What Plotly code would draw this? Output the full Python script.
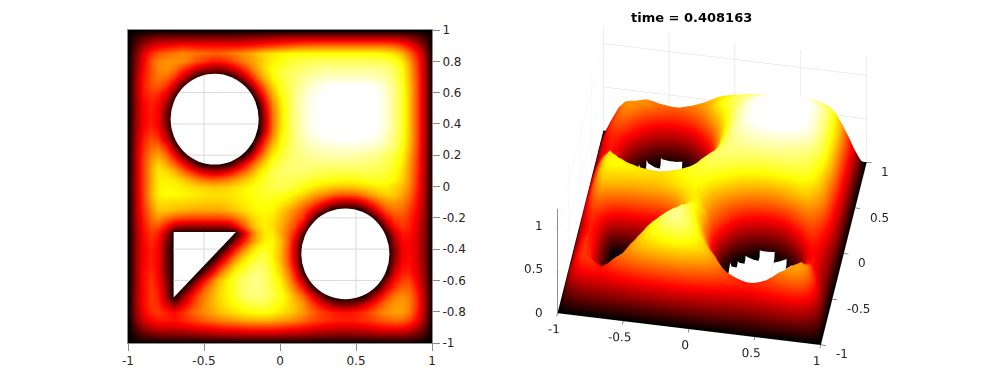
import numpy as np
import plotly.graph_objects as go

grid_x = [round(-1 + 0.05 * i, 2) for i in range(41)]
grid_y = [round(1 - 0.05 * i, 2) for i in range(41)]
left_x_ticks = [-1, -0.5, 0, 0.5, 1]
left_x_text = ["-1", "-0.5", "0", "0.5", "1"]
left_y_ticks = [1, 0.8, 0.6, 0.4, 0.2, 0, -0.2, -0.4, -0.6, -0.8, -1]
left_y_text = ["1", "0.8", "0.6", "0.4", "0.2", "0", "-0.2", "-0.4", "-0.6", "-0.8", "-1"]
surface_z_ticks = [0, 0.5, 1]
surface_z_text = ["0", "0.5", "1"]
title_text = "time = 0.408163"

# Field values (percent). Rows run from y = 1 down to y = -1.
field_rows = [
 [0]*41,
 [0, 8,14,18,20,21,21,21,21,21,21, 21,21,21,21,22,23,24,25,26,27, 28,28,29,29,29,29,29,29,29,29, 29,29,29,29,28,26,22,17,10,0],
 [0, 14,24,32,36,38,40,42,42,41,40, 40,40,40,40,41,42,44,46,48,50, 52,54,55,56,56,57,57,57,57,57, 57,57,57,56,54,48,40,30,18,0],
 [0, 18,32,44,50,54,56,58,57,55,54, 53,53,55,57,60,63,67,71,73,75, 76,77,77,77,77,77,77,77,77,77, 77,77,76,75,72,65,54,40,24,0],
 [0, 21,36,50,58,60,60,60,56,50,46, 42,42,45,50,56,61,66,71,75,78, 81,83,84,85,86,86,86,86,86,86, 86,86,85,84,81,74,62,45,27,0],
 [0, 22,38,50,58,60,56,47,38,30,24, 20,20,24,32,42,53,63,72,78,82, 85,87,88,90,91,92,92,92,92,92, 92,92,92,90,86,78,65,47,28,0],
 [0, 24,40,50,56,54,46,33,20,5,0, 0,0,0,8,24,40,55,67,76,82, 86,89,92,94,96,97,97,97,97,97, 97,96,95,93,88,79,66,48,28,0],
 [0, 25,41,50,52,46,32,14,0,0,0, 0,0,0,0,0,20,40,58,70,80, 85,90,94,97,100,102,103,104,104,104, 104,103,100,96,90,80,67,49,28,0],
 [0, 25,40,46,44,35,18,0,0,0,0, 0,0,0,0,0,0,26,48,65,77, 84,91,96,100,102,104,104,105,105,105, 105,104,102,98,91,81,68,49,28,0],
 [0, 24,38,43,40,28,4,0,0,0,0, 0,0,0,0,0,0,10,40,60,74, 84,92,97,101,103,104,105,105,105,105, 105,104,102,98,91,81,68,49,28,0],
 [0, 24,37,42,37,20,0,0,0,0,0, 0,0,0,0,0,0,0,33,56,72, 83,92,97,101,103,104,105,105,105,105, 105,104,102,98,91,81,68,49,28,0],
 [0, 24,36,41,36,17,0,0,0,0,0, 0,0,0,0,0,0,0,28,54,71, 83,91,97,101,103,104,105,105,105,105, 105,104,102,98,91,81,68,49,28,0],
 [0, 24,37,42,36,17,0,0,0,0,0, 0,0,0,0,0,0,0,28,54,71, 83,91,97,101,103,104,105,105,105,105, 105,104,102,98,91,81,68,49,28,0],
 [0, 25,39,45,40,24,0,0,0,0,0, 0,0,0,0,0,0,0,33,56,73, 83,91,96,100,102,103,104,104,104,104, 104,103,101,97,90,81,68,49,28,0],
 [0, 26,42,50,47,32,7,0,0,0,0, 0,0,0,0,0,0,14,44,61,75, 84,90,95,98,100,102,102,103,103,103, 102,101,99,95,89,80,67,49,28,0],
 [0, 27,44,54,55,44,22,0,0,0,0, 0,0,0,0,0,0,30,52,68,78, 85,90,93,95,97,98,98,99,99,99, 98,97,95,92,87,79,66,48,28,0],
 [0, 28,46,58,63,54,38,20,0,0,0, 0,0,0,0,2,24,44,62,74,81, 86,89,91,93,94,94,95,95,95,94, 93,92,90,87,83,76,64,47,27,0],
 [0, 28,47,62,70,63,52,40,26,10,0, 0,0,2,14,30,46,60,71,80,85, 88,89,90,90,90,90,90,90,90,90, 90,89,87,85,81,74,62,46,27,0],
 [0, 28,47,63,74,71,65,56,46,38,30, 26,27,32,40,50,60,70,78,84,87, 88,88,88,87,86,85,85,85,85,85, 85,85,85,83,79,72,61,45,27,0],
 [0, 28,47,64,74,75,73,69,64,58,54, 52,53,56,60,66,71,76,81,84,86, 86,85,84,82,81,80,79,78,78,79, 80,81,81,80,77,70,60,44,26,0],
 [0, 28,47,64,75,76,76,75,73,71,70, 69,69,70,72,74,77,80,82,84,85, 84,82,78,75,72,70,68,67,67,68, 70,72,74,74,71,66,58,43,26,0],
 [0, 28,47,65,75,77,77,76,75,74,73, 72,72,73,74,76,78,80,81,81,80, 78,75,71,66,62,58,54,52,52,54, 58,63,67,70,69,63,55,41,25,0],
 [0, 27,46,62,72,72,71,71,70,70,69, 69,69,70,72,74,76,78,79,78,76, 72,67,60,54,46,38,30,26,25,28, 36,45,54,60,61,58,51,39,24,0],
 [0, 27,44,58,68,68,66,65,64,63,63, 63,63,65,68,71,74,76,77,76,70, 64,58,50,40,26,12,2,0,0,0, 10,24,40,50,55,54,47,37,23,0],
 [0, 26,42,55,60,55,50,48,47,47,47, 47,47,49,53,60,68,73,75,73,67, 60,52,44,24,2,0,0,0,0,0, 0,0,20,38,47,49,44,35,22,0],
 [0, 25,40,50,50,40,28,24,23,23,23, 23,23,24,33,48,62,71,75,72,65, 56,48,30,2,0,0,0,0,0,0, 0,0,0,22,40,46,42,33,21,0],
 [0, 24,38,46,42,26,0,0,0,0,0, 0,0,0,0,26,50,65,74,74,64, 53,40,14,0,0,0,0,0,0,0, 0,0,0,8,30,41,40,32,21,0],
 [0, 24,37,44,38,20,0,0,0,0,0, 0,0,0,18,38,55,67,75,76,68, 52,32,2,0,0,0,0,0,0,0, 0,0,0,0,24,38,38,31,20,0],
 [0, 24,36,42,36,17,0,0,0,0,0, 0,0,18,38,55,68,77,81,76,66, 50,28,0,0,0,0,0,0,0,0, 0,0,0,0,19,36,38,31,20,0],
 [0, 24,36,42,36,17,0,0,0,0,0, 0,18,38,55,68,77,83,83,76,66, 50,28,0,0,0,0,0,0,0,0, 0,0,0,0,19,36,39,31,20,0],
 [0, 24,37,42,36,17,0,0,0,0,0, 18,38,55,68,77,83,87,85,78,68, 52,33,0,0,0,0,0,0,0,0, 0,0,0,0,24,38,40,32,21,0],
 [0, 24,38,44,37,18,0,0,0,0,18, 38,55,68,77,83,88,90,87,80,71, 58,40,10,0,0,0,0,0,0,0, 0,0,0,4,32,42,42,33,21,0],
 [0, 24,38,45,38,20,0,0,0,18,38, 55,67,75,81,87,90,91,88,82,75, 62,46,26,0,0,0,0,0,0,0, 0,0,0,20,38,47,48,36,22,0],
 [0, 24,38,46,40,22,0,0,18,36,51, 62,70,76,81,87,90,91,88,84,77, 67,55,40,20,0,0,0,0,0,0, 0,0,14,33,47,53,52,40,24,0],
 [0, 25,38,46,42,25,0,18,34,47,57, 65,71,76,81,86,89,90,88,84,79, 72,63,54,40,24,8,0,0,0,0, 4,20,34,47,56,60,56,43,25,0],
 [0, 25,38,46,44,32,20,30,42,51,59, 65,70,74,77,81,83,85,84,81,77, 72,67,60,50,40,30,22,18,18,22, 30,38,48,56,61,62,58,44,26,0],
 [0, 23,36,44,46,42,38,43,50,55,59, 63,67,70,72,75,77,78,78,76,73, 70,66,61,55,49,45,42,40,40,42, 45,50,56,60,62,62,56,42,25,0],
 [0, 20,31,38,41,41,40,42,46,49,52, 55,57,59,61,63,64,65,65,64,62, 60,58,54,50,47,45,43,42,42,43, 45,47,50,52,54,53,48,37,22,0],
 [0, 14,23,28,31,32,32,33,35,37,38, 40,42,43,44,45,46,46,46,46,45, 43,42,40,38,36,34,33,32,32,33, 34,36,38,39,40,39,35,27,16,0],
 [0, 7,12,15,17,18,18,18,19,20,21, 22,23,23,24,24,25,25,25,25,24, 23,23,22,21,20,19,19,18,18,19, 19,20,21,21,21,21,19,15,9,0],
 [0]*41,
]

# Hole outlines
circle_centers = [(-0.43, 0.43), (0.43, -0.43)]
circle_radius = 0.29
triangle_x = [-0.7, -0.29, -0.7]
triangle_y = [-0.29, -0.29, -0.71]

hot = [[0, "#000000"], [0.365, "#ff0000"], [0.746, "#ffff00"], [1, "#ffffff"]]
Z = np.array(field_rows, dtype=float) / 100
zmax = 1.03

# Surface: open only the cells well inside a round hole; the triangle's pit stays closed in this view
zero = Z == 0
pad = np.pad(zero, 1, constant_values=True)
deep = np.ones_like(zero)
for dy in range(3):
    for dx in range(3):
        deep &= pad[dy:dy + 41, dx:dx + 41]
deep[[0, -1], :] = False
deep[:, [0, -1]] = False
X, Y = np.meshgrid(grid_x, grid_y)
in_triangle = (X < -0.25) & (Y < -0.25)
deep[in_triangle] = False
Zs = Z.copy()
Zs[deep] = np.nan

fig = go.Figure()
fig.add_trace(go.Heatmap(x=grid_x, y=grid_y, z=Z, colorscale=hot, zmin=0, zmax=zmax,
                         zsmooth="best", showscale=False, hoverinfo="skip"))
fig.add_trace(go.Surface(x=grid_x, y=grid_y, z=Zs, surfacecolor=Zs, colorscale=hot, cmin=0, cmax=zmax,
                         showscale=False, hoverinfo="skip",
                         lighting=dict(ambient=1, diffuse=0, specular=0, roughness=1, fresnel=0),
                         contours=dict(x=dict(highlight=False), y=dict(highlight=False), z=dict(highlight=False)),
                         scene="scene"))

shapes = []
for cx, cy in circle_centers:
    shapes.append(dict(type="circle", x0=cx - circle_radius, x1=cx + circle_radius,
                       y0=cy - circle_radius, y1=cy + circle_radius,
                       fillcolor="white", line=dict(width=0), layer="above"))
path = "M " + " L ".join(f"{a},{b}" for a, b in zip(triangle_x, triangle_y)) + " Z"
shapes.append(dict(type="path", path=path, fillcolor="white", line=dict(width=0), layer="above"))

grid_style = dict(color="#d9d9d9", width=1)
for cx, cy in circle_centers:
    for gx in [-0.5, 0.5]:
        if abs(gx - cx) < circle_radius:
            h = (circle_radius**2 - (gx - cx)**2) ** 0.5
            shapes.append(dict(type="line", x0=gx, x1=gx, y0=cy - h, y1=cy + h, line=grid_style, layer="above"))
    for gy in left_y_ticks:
        if abs(gy - cy) < circle_radius:
            h = (circle_radius**2 - (gy - cy)**2) ** 0.5
            shapes.append(dict(type="line", y0=gy, y1=gy, x0=cx - h, x1=cx + h, line=grid_style, layer="above"))
shapes.append(dict(type="line", x0=-0.5, x1=-0.5, y0=-0.5, y1=-0.29, line=grid_style, layer="above"))
shapes.append(dict(type="line", x0=-0.7, x1=-0.4, y0=-0.4, y1=-0.4, line=grid_style, layer="above"))
shapes.append(dict(type="line", x0=-0.7, x1=-0.6, y0=-0.6, y1=-0.6, line=grid_style, layer="above"))

font = dict(family="DejaVu Sans", size=12, color="#262626")
ax3 = dict(showbackground=False, showspikes=False, showline=True, linecolor="#262626", linewidth=1,
           zeroline=False, gridcolor="#dcdcdc", gridwidth=1, ticks="outside", ticklen=5,
           tickcolor="#262626", tickfont=font, tickangle=0, title=dict(text=""))

scene_notes = []
for v, t in zip(surface_z_ticks, surface_z_text):
    scene_notes.append(dict(x=-1, y=-1, z=v, text=t, showarrow=False, xanchor="right", yanchor="middle",
                            xshift=-12, font=font))
for v, t in zip(left_x_ticks, left_x_text):
    scene_notes.append(dict(x=1, y=v, z=0, text=t, showarrow=False, xanchor="left", yanchor="middle",
                            xshift=13, yshift=-10, font=font))

fig.update_layout(
    width=982, height=386, autosize=False,
    margin=dict(l=0, r=0, t=0, b=0),
    paper_bgcolor="white", plot_bgcolor="white",
    showlegend=False, shapes=shapes,
    xaxis=dict(domain=[128 / 982, 432 / 982], range=[-1, 1], tickmode="array", automargin=False,
               tickvals=left_x_ticks, ticktext=left_x_text, ticks="outside", ticklen=7, tickwidth=1,
               tickcolor="#8c8c8c", tickfont=font, showgrid=False, zeroline=False,
               showline=True, mirror=True, linecolor="#8c8c8c", linewidth=1),
    yaxis=dict(domain=[1 - 343 / 386, 1 - 30 / 386], range=[-1, 1], side="right", tickmode="array", automargin=False,
               tickvals=left_y_ticks, ticktext=left_y_text, ticks="outside", ticklen=7, tickwidth=1,
               tickcolor="#8c8c8c", tickfont=font, showgrid=False, zeroline=False,
               showline=True, mirror=True, linecolor="#8c8c8c", linewidth=1),
    scene=dict(
        domain=dict(x=[0.5, 0.95], y=[0.04, 1]),
        aspectmode="manual", aspectratio=dict(x=1.44, y=1.44, z=0.78),
        camera=dict(projection=dict(type="orthographic"),
                    eye=dict(x=0.111, y=-0.637, z=0.623), up=dict(x=0, y=0, z=1),
                    center=dict(x=0, y=0, z=0)),
        xaxis=dict(ax3, range=[-1, 1], tickmode="array", tickvals=left_x_ticks, ticktext=left_x_text),
        yaxis=dict(ax3, range=[-1, 1], tickmode="array", tickvals=left_x_ticks, ticktext=left_x_text, showticklabels=False),
        zaxis=dict(ax3, range=[0, 1.2], tickmode="array", tickvals=surface_z_ticks, ticktext=surface_z_text, showticklabels=False),
        annotations=scene_notes,
    ),
    annotations=[dict(text=f"<b>{title_text}</b>", x=691 / 982, y=1 - 17 / 386, xref="paper", yref="paper",
                      xanchor="center", yanchor="middle", showarrow=False,
                      font=dict(family="DejaVu Sans", size=13, color="black"))],
)

fig.write_html("out.html", post_script="document.body.style.margin='0';", config=dict(displayModeBar=False))
